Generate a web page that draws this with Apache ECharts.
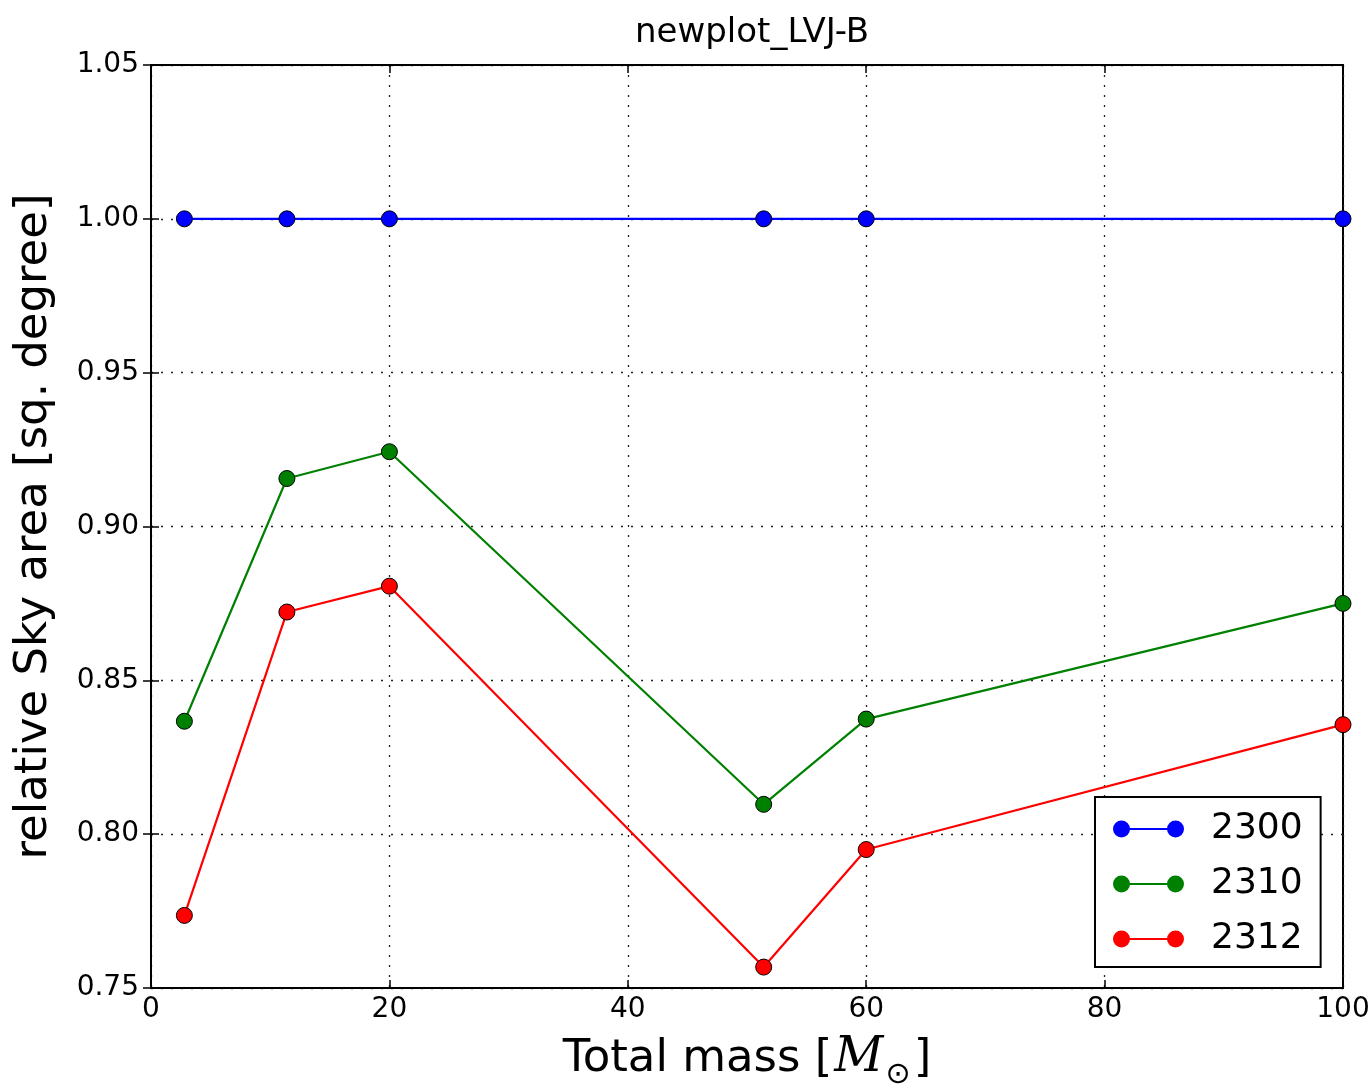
<!DOCTYPE html>
<html>
<head>
<meta charset="utf-8">
<title>newplot_LVJ-B</title>
<script src="https://cdn.jsdelivr.net/npm/echarts@6/dist/echarts.min.js"></script>
<style>
  html, body { margin: 0; padding: 0; background: #fff; }
  #chart { width: 1372px; height: 1084px; }
</style>
</head>
<body>
<div id="chart"></div>
<script>
// Total mass of each configuration (solar masses)
const totalMass = [2.8, 11.4, 20, 51.4, 60, 100];

// Relative sky area per network configuration
const seriesNames = ['2300', '2310', '2312'];
const area2300 = [1.0, 1.0, 1.0, 1.0, 1.0, 1.0];
const area2310 = [0.8367, 0.9156, 0.9243, 0.8097, 0.8374, 0.8750];
const area2312 = [0.7736, 0.8722, 0.8806, 0.7568, 0.7950, 0.8356];
const seriesColors = ['#0000ff', '#008000', '#ff0000'];

// Axis ranges and tick steps
const xMin = 0, xMax = 100, xStep = 20;
const yMin = 0.75, yMax = 1.05, yStep = 0.05;

const FONT = 'DejaVu Sans';

// Legend glyph: two markers joined by a line
const legendIcon = 'path://M0,8.5A8.5,8.5 0 1,1 17,8.5A8.5,8.5 0 1,1 0,8.5Z' +
  'M54,8.5A8.5,8.5 0 1,1 71,8.5A8.5,8.5 0 1,1 54,8.5Z' +
  'M8.5,7.6L62.5,7.6L62.5,9.4L8.5,9.4Z';

function pairs(ys) {
  return totalMass.map((x, i) => [x, ys[i]]);
}

const allSeries = [area2300, area2310, area2312].map((ys, i) => ({
  name: seriesNames[i],
  type: 'line',
  data: pairs(ys),
  xAxisIndex: 0,
  yAxisIndex: 0,
  symbol: 'circle',
  symbolSize: 16,
  clip: false,
  lineStyle: { color: seriesColors[i], width: 2.2 },
  itemStyle: { color: seriesColors[i], borderColor: '#000', borderWidth: 1 },
  z: 3 + i
}));

const tickStyle = { show: true, inside: true, length: 8, lineStyle: { color: '#000', width: 1.5 } };
const gridLine = { show: true, lineStyle: { color: '#222', width: 1.3, type: [2, 8] } };

const chart = echarts.init(document.getElementById('chart'), null, { renderer: 'canvas' });
chart.setOption({
  animation: false,
  backgroundColor: '#fff',
  title: {
    text: 'newplot_LVJ-B',
    left: 747,
    textAlign: 'center',
    top: 11,
    textStyle: { fontFamily: FONT, fontSize: 34, fontWeight: 'normal', color: '#000' }
  },
  grid: {
    left: 151, right: 29, top: 65, bottom: 96,
    outerBoundsMode: 'none',
    containLabel: false,
    show: true, borderColor: '#000', borderWidth: 2, backgroundColor: 'transparent'
  },
  legend: {
    orient: 'vertical',
    left: 1095,
    top: 797,
    width: 228,
    padding: [13, 18, 9, 18],
    itemGap: 17,
    itemWidth: 71,
    itemHeight: 17,
    icon: legendIcon,
    itemStyle: { borderWidth: 0 },
    borderColor: '#000',
    borderWidth: 2,
    borderRadius: 0,
    backgroundColor: '#fff',
    textStyle: { fontFamily: FONT, fontSize: 36, color: '#000', lineHeight: 38, padding: [0, 0, 0, 22] },
    data: seriesNames
  },
  xAxis: [
    {
      type: 'value', position: 'bottom',
      min: xMin, max: xMax, interval: xStep,
      axisLine: { show: true, lineStyle: { color: '#000', width: 2 } },
      axisTick: tickStyle,
      splitLine: gridLine,
      axisLabel: { fontFamily: FONT, fontSize: 28, color: '#000', margin: 8 },
      name: '{a|Total mass [}{m|M}{s|\u2299}{a|]}',
      nameLocation: 'middle',
      nameGap: 40,
      nameTextStyle: {
        fontFamily: FONT, fontSize: 45, color: '#000',
        rich: {
          a: { fontFamily: FONT, fontSize: 45, color: '#000' },
          m: { fontFamily: 'DejaVu Serif', fontStyle: 'italic', fontSize: 48, color: '#000', padding: [0, 2, 0, 2] },
          s: { fontFamily: FONT, fontSize: 30, color: '#000', verticalAlign: 'bottom', padding: [32, 3, 0, 0] }
        }
      }
    },
    {
      type: 'value', position: 'top',
      min: xMin, max: xMax, interval: xStep,
      axisLine: { show: true, lineStyle: { color: '#000', width: 2 } },
      axisTick: tickStyle,
      splitLine: { show: false },
      axisLabel: { show: false }
    }
  ],
  yAxis: [
    {
      type: 'value', position: 'left',
      min: yMin, max: yMax, interval: yStep,
      axisLine: { show: true, lineStyle: { color: '#000', width: 2 } },
      axisTick: tickStyle,
      splitLine: gridLine,
      axisLabel: {
        fontFamily: FONT, fontSize: 28, color: '#000', margin: 12,
        formatter: v => v.toFixed(2)
      },
      name: 'relative Sky area [sq. degree]',
      nameLocation: 'middle',
      nameGap: 94,
      nameTextStyle: { fontFamily: FONT, fontSize: 45, color: '#000' }
    },
    {
      type: 'value', position: 'right',
      min: yMin, max: yMax, interval: yStep,
      axisLine: { show: true, lineStyle: { color: '#000', width: 2 } },
      axisTick: tickStyle,
      splitLine: { show: false },
      axisLabel: { show: false }
    }
  ],
  series: allSeries
});
</script>
</body>
</html>
